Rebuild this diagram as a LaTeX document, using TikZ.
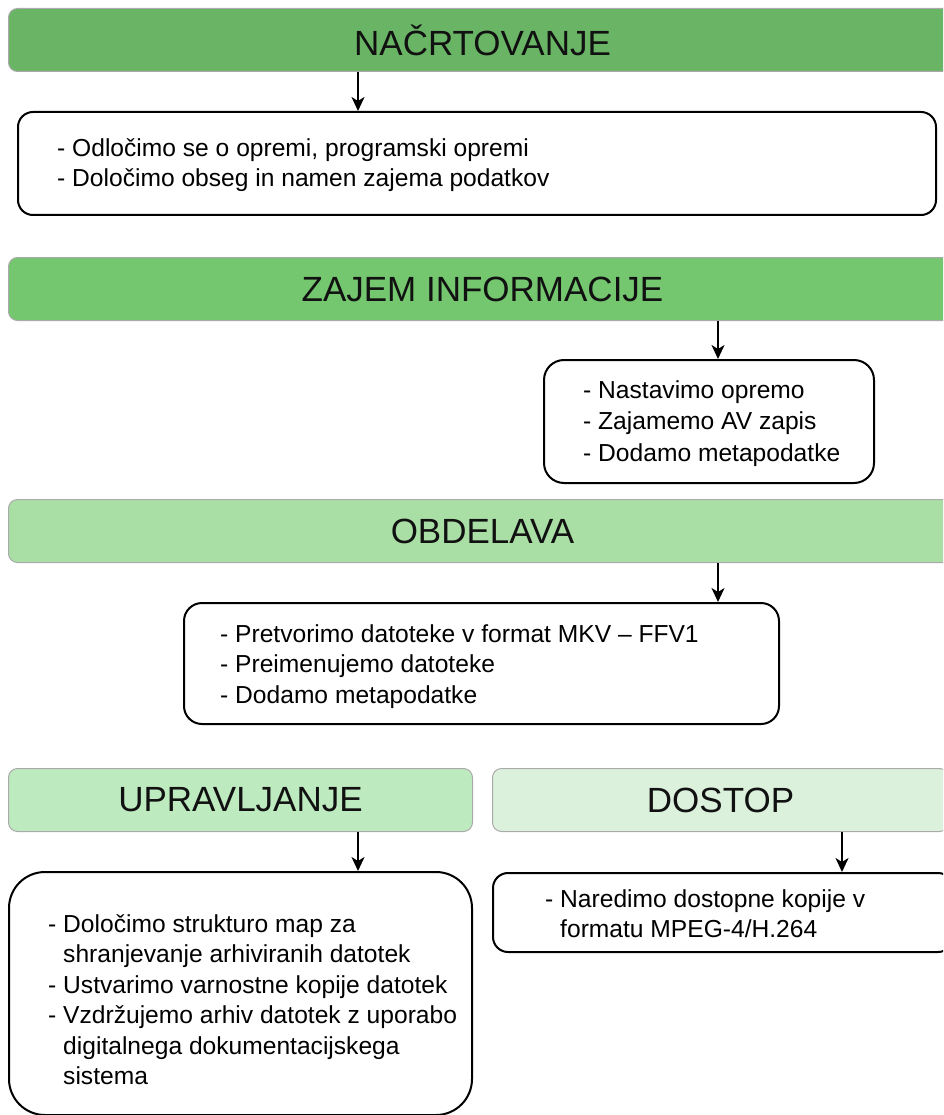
\documentclass[tikz,border=0pt]{standalone}
\usepackage{fontspec}
\setmainfont{Liberation Sans}
\usetikzlibrary{arrows.meta}

\definecolor{planfill}{HTML}{69B565}
\definecolor{capturefill}{HTML}{74C66F}
\definecolor{processfill}{HTML}{A9DFA5}
\definecolor{managefill}{HTML}{BDEABF}
\definecolor{accessfill}{HTML}{DCF1DC}
\definecolor{bannerline}{HTML}{AAAAAA}
\definecolor{titleink}{HTML}{111111}

\newcommand{\hang}{\hphantom{- }}

\begin{document}
\begin{tikzpicture}[x=1pt,y=-1pt,
  banner/.style={draw=bannerline, line width=1pt, rounded corners=9pt,
    anchor=north west, inner sep=0pt, text=titleink,
    font=\fontsize{35}{42}\selectfont},
  infobox/.style={draw=black, line width=2pt, anchor=north west, inner sep=0pt},
  itemtext/.style={anchor=west, align=left, inner sep=0pt,
    font=\fontsize{24.6}{30.5}\selectfont},
  flow/.style={line width=1.8pt, -{Stealth[length=14pt,width=13pt,inset=4pt]}}]

\useasboundingbox (0,0) rectangle (943,1115);
\clip (0,0) rectangle (943,1115);

% phase headers
\node[banner, fill=planfill,    minimum width=948pt, minimum height=63pt] (h1) at (8,8)   {NAČRTOVANJE};
\node[banner, fill=capturefill, minimum width=948pt, minimum height=63pt] (h2) at (8,257) {ZAJEM INFORMACIJE};
\node[banner, fill=processfill, minimum width=948pt, minimum height=63pt] (h3) at (8,499) {OBDELAVA};
\node[banner, fill=managefill,  minimum width=464pt, minimum height=63pt] (h4) at (8,768) {UPRAVLJANJE};
\node[banner, fill=accessfill,  minimum width=456pt, minimum height=63pt] (h5) at (492,768) {DOSTOP};

% step boxes
\node[infobox, rounded corners=15pt, minimum width=918pt, minimum height=103pt] (b1) at (17,111) {};
\node[infobox, rounded corners=20pt, minimum width=330pt, minimum height=123pt] (b2) at (543,359) {};
\node[infobox, rounded corners=18pt, minimum width=595pt, minimum height=121pt] (b3) at (183,602) {};
\node[infobox, rounded corners=36pt, minimum width=463pt, minimum height=243pt] (b4) at (8,871) {};
\node[infobox, rounded corners=15pt, minimum width=460pt, minimum height=79pt]  (b5) at (492,872) {};

% box contents (canvas yshift: negative moves text down)
\node[itemtext] (t1) at ([xshift=40pt,yshift=-1.5pt]b1.west) {- Odločimo se o opremi, programski opremi\\- Določimo obseg in namen zajema podatkov};
\node[itemtext, font=\fontsize{24.6}{31.5}\selectfont] (t2) at ([xshift=40pt,yshift=-2pt]b2.west) {- Nastavimo opremo\\- Zajamemo AV zapis\\- Dodamo metapodatke};
\node[itemtext] (t3) at ([xshift=37pt,yshift=-3pt]b3.west) {- Pretvorimo datoteke v format MKV – FFV1\\- Preimenujemo datoteke\\- Dodamo metapodatke};
\node[itemtext] (t4) at ([xshift=40pt,yshift=-6pt]b4.west) {- Določimo strukturo map za\\\hang shranjevanje arhiviranih datotek\\- Ustvarimo varnostne kopije datotek\\- Vzdržujemo arhiv datotek z uporabo\\\hang digitalnega dokumentacijskega\\\hang sistema};
\node[itemtext] (t5) at ([xshift=53pt,yshift=-1pt]b5.west) {- Naredimo dostopne kopije v\\\hang formatu MPEG-4/H.264};

% flow from each header to its box
\draw[flow] (h1.south -| 358,0) -- (b1.north -| 358,0);
\draw[flow] (h2.south -| 718,0) -- (b2.north -| 718,0);
\draw[flow] (h3.south -| 718,0) -- (b3.north -| 718,0);
\draw[flow] (h4.south -| 358,0) -- (b4.north -| 358,0);
\draw[flow] (h5.south -| 842,0) -- (b5.north -| 842,0);
\end{tikzpicture}
\end{document}
